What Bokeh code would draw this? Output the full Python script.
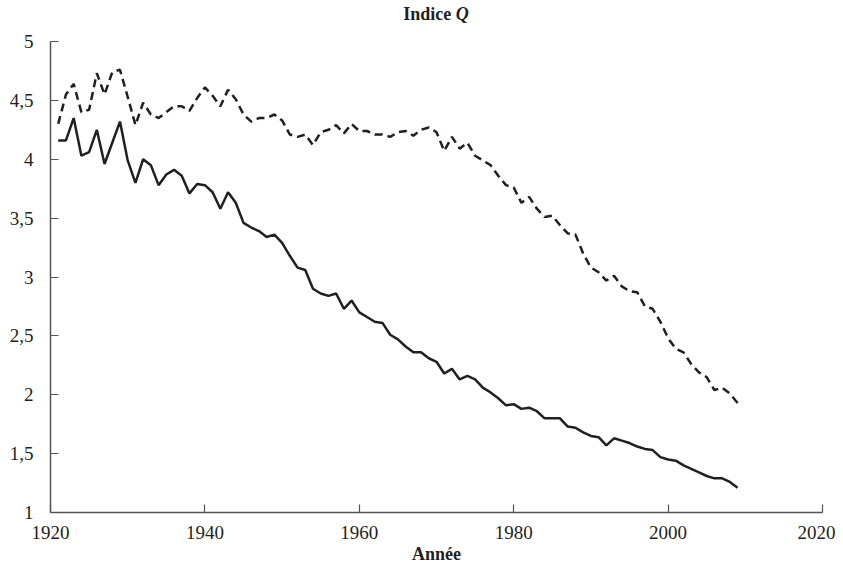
from bokeh.plotting import figure
from bokeh.models import Range1d, FixedTicker, CustomJSTickFormatter, Div
from bokeh.layouts import column
from bokeh.embed import file_html
from bokeh.resources import INLINE

years = list(range(1921, 2010))

q_solid = [4.16, 4.16, 4.35, 4.03, 4.06, 4.25, 3.96, 4.14, 4.32, 3.99,
           3.80, 4.00, 3.95, 3.78, 3.87, 3.91, 3.86, 3.71, 3.79, 3.78,
           3.72, 3.58, 3.72, 3.63, 3.46, 3.42, 3.39, 3.34, 3.36, 3.29,
           3.18, 3.08, 3.06, 2.90, 2.86, 2.84, 2.86, 2.73, 2.80, 2.70,
           2.66, 2.62, 2.61, 2.51, 2.47, 2.41, 2.36, 2.36, 2.31, 2.28,
           2.18, 2.22, 2.13, 2.16, 2.13, 2.06, 2.02, 1.97, 1.91, 1.92,
           1.88, 1.89, 1.86, 1.80, 1.80, 1.80, 1.73, 1.72, 1.68, 1.65,
           1.64, 1.57, 1.63, 1.61, 1.59, 1.56, 1.54, 1.53, 1.47, 1.45,
           1.44, 1.40, 1.37, 1.34, 1.31, 1.29, 1.29, 1.26, 1.21]

q_dashed = [4.30, 4.55, 4.64, 4.40, 4.42, 4.73, 4.55, 4.74, 4.76, 4.53,
            4.29, 4.48, 4.38, 4.35, 4.40, 4.45, 4.45, 4.41, 4.52, 4.61,
            4.54, 4.45, 4.59, 4.51, 4.38, 4.32, 4.35, 4.35, 4.38, 4.33,
            4.21, 4.19, 4.21, 4.12, 4.23, 4.25, 4.29, 4.22, 4.30, 4.24,
            4.24, 4.21, 4.21, 4.19, 4.23, 4.24, 4.20, 4.25, 4.27, 4.23,
            4.07, 4.19, 4.09, 4.14, 4.03, 3.99, 3.95, 3.86, 3.78, 3.76,
            3.63, 3.68, 3.58, 3.51, 3.52, 3.44, 3.37, 3.36, 3.20, 3.08,
            3.04, 2.97, 3.01, 2.92, 2.88, 2.87, 2.75, 2.73, 2.62, 2.48,
            2.39, 2.36, 2.26, 2.19, 2.15, 2.04, 2.06, 2.01, 1.93]

x_ticks = [1920, 1940, 1960, 1980, 2000, 2020]
y_ticks = [1, 1.5, 2, 2.5, 3, 3.5, 4, 4.5, 5]

FONT = "Liberation Serif"
INK = "#231f20"

title = Div(
    text=('<div style="width:835px;text-align:center;padding-left:37px;'
          'box-sizing:border-box;font-family:\'Liberation Serif\',serif;'
          'font-weight:bold;font-size:18px;color:#231f20;line-height:20px;'
          'padding-top:4px">Indice <i>Q</i></div>'),
    width=835, height=24, margin=0)

p = figure(width=835, height=544, output_backend="svg", toolbar_location=None,
           x_range=Range1d(1920, 2020), y_range=Range1d(1, 5),
           min_border_left=50, min_border_right=13, min_border_top=17,
           min_border_bottom=56, margin=0)
p.outline_line_color = None
p.xgrid.visible = False
p.ygrid.visible = False
p.background_fill_color = "white"
p.border_fill_color = "white"

p.line(years, q_dashed, line_color=INK, line_width=2.5, line_dash="8 5")
p.line(years, q_solid, line_color=INK, line_width=2.5)

for ax in (p.xaxis[0], p.yaxis[0]):
    ax.axis_line_color = "#555555"
    ax.axis_line_width = 1.5
    ax.major_tick_line_color = "#555555"
    ax.major_tick_line_width = 1.2
    ax.major_tick_in = 8
    ax.major_tick_out = 0
    ax.minor_tick_line_color = None
    ax.major_label_text_font = FONT
    ax.major_label_text_font_size = "19px"
    ax.major_label_text_color = INK

p.xaxis[0].ticker = FixedTicker(ticks=x_ticks)
p.yaxis[0].ticker = FixedTicker(ticks=y_ticks)
p.yaxis[0].formatter = CustomJSTickFormatter(code="return tick.toString().replace('.', ',');")
p.xaxis[0].formatter = CustomJSTickFormatter(code="return tick.toString();")
p.xaxis[0].major_label_standoff = 13
p.yaxis[0].major_label_standoff = 17

p.xaxis[0].axis_label = "Année"
p.xaxis[0].axis_label_text_font = FONT
p.xaxis[0].axis_label_text_font_style = "bold"
p.xaxis[0].axis_label_text_font_size = "18px"
p.xaxis[0].axis_label_text_color = INK
p.xaxis[0].axis_label_standoff = 2

open("out.html", "w").write(file_html(column(title, p, spacing=0), INLINE))
